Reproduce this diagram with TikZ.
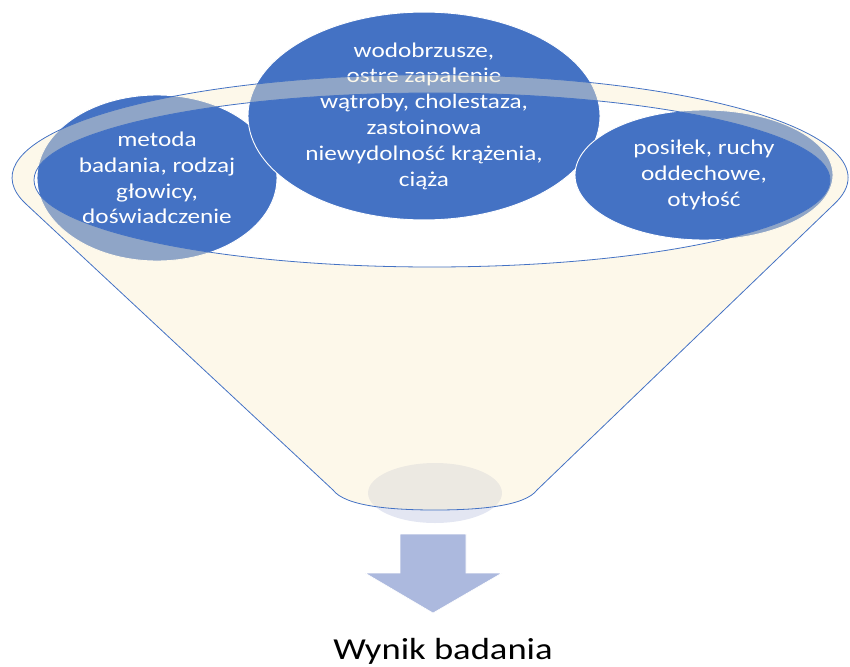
\documentclass[tikz,border=0pt]{standalone}
\usepackage{fontspec}
\setmainfont[FakeStretch=1.2]{Carlito}
\usetikzlibrary{shapes.geometric}
\definecolor{bubble}{RGB}{68,114,196}
\definecolor{cream}{RGB}{251,239,205}
\definecolor{rimline}{RGB}{68,114,196}
\definecolor{arrowfill}{RGB}{172,185,222}
\definecolor{spot}{RGB}{227,230,242}

\begin{document}
\begin{tikzpicture}[x=1pt,y=-1pt,
  bubble/.style={ellipse, fill=bubble, draw=white, line width=0.9pt,
    inner sep=0pt, text=white, align=center,
    font=\fontsize{21}{25.8}\selectfont},
  funnelfill/.style={fill=cream, fill opacity=0.41, even odd rule},
  funnelline/.style={draw=rimline, line width=0.8pt},
]
\useasboundingbox (0,0) rectangle (850,666);

% faint spot at the spout
\fill[spot] (435,493) ellipse [x radius=67, y radius=30];

% the three factor bubbles
\node[bubble, minimum width=240, minimum height=166] (left) at (157,178)
  {metoda\\badania, rodzaj\\głowicy,\\doświadczenie};
\node[bubble, minimum width=352, minimum height=206] (mid) at (424,116)
  {wodobrzusze,\\ostre zapalenie\\wątroby, cholestaza,\\zastoinowa\\niewydolność krążenia,\\ciąża};
\node[bubble, minimum width=258, minimum height=130] (right) at (704,175)
  {posiłek, ruchy\\oddechowe,\\otyłość};

% funnel body and rim, translucent over the bubbles
\path[funnelfill]
  (26,204) arc[start angle=165.2, end angle=374.8, x radius=418, y radius=103]
  -- (537,490) .. controls (525,506) and (480,510) .. (435,510)
  .. controls (390,510) and (345,506) .. (333,490) -- cycle
  (432,180) ellipse [x radius=398, y radius=87];
\path[funnelline]
  (26,204) arc[start angle=165.2, end angle=374.8, x radius=418, y radius=103]
  -- (537,490) .. controls (525,506) and (480,510) .. (435,510)
  .. controls (390,510) and (345,506) .. (333,490) -- cycle;
\path[funnelline] (432,180) ellipse [x radius=398, y radius=87];

% downward block arrow
\draw[white, fill=arrowfill, line width=0.6pt]
  (400,534) -- (466,534) -- (466,573) -- (502,573) -- (433,613)
  -- (365,573) -- (400,573) -- cycle;

\node[font=\fontsize{30.5}{36}\selectfont, anchor=base, inner sep=0pt] (result)
  at (443,659) {Wynik badania};
\end{tikzpicture}
\end{document}
